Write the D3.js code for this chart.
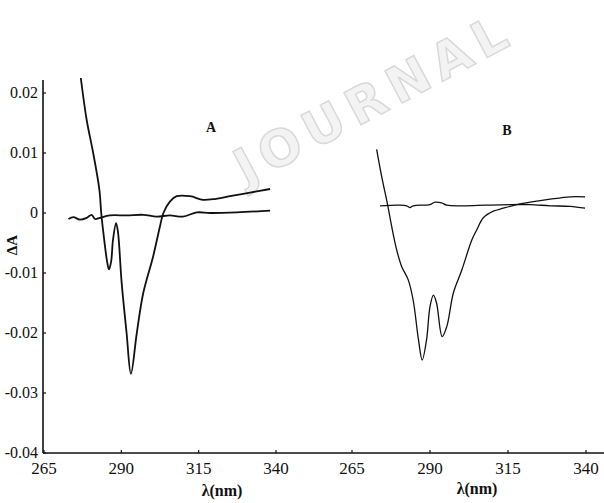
<!DOCTYPE html>
<html>
<head>
<meta charset="utf-8">
<script src="https://cdn.jsdelivr.net/npm/d3@7"></script>
<style>
  body { margin: 0; background: #fff; }
  svg { display: block; }
  text { font-family: "Liberation Serif", "DejaVu Serif", serif; fill: #111; }
</style>
</head>
<body>
<div id="chart"></div>
<script>
const W = 604, H = 503;
const axis_left = 43;
const axis_bottom = 453;

// tick labels
const x_ticks = [265, 290, 315, 340];
const y_ticks = [0.02, 0.01, 0, -0.01, -0.02, -0.03, -0.04];
const y_tick_labels = ["0.02", "0.01", "0", "-0.01", "-0.02", "-0.03", "-0.04"];

// panel A: wavelength (nm) and delta A
const a_main_nm = [276.9, 278.8, 280.9, 282.9, 283.5, 284.2, 285.4, 286.0, 286.7, 287.3, 288.3, 288.9, 290.1, 291.7, 293.1, 295.0, 297.1, 300.3, 302.5, 303.6, 305.7, 307.9, 312.2, 316.4, 319.6, 325.1, 331.6, 338.1];
const a_main_val = [0.0225, 0.0155, 0.0100, 0.0039, 0.0, -0.0033, -0.0081, -0.0094, -0.0081, -0.0045, -0.0017, -0.0031, -0.0116, -0.0200, -0.0268, -0.0200, -0.0133, -0.0072, -0.0022, 0.0, 0.0019, 0.0028, 0.0028, 0.0022, 0.0023, 0.0028, 0.0034, 0.0040];
const a_base_nm = [272.9, 274.5, 276.6, 278.8, 280.4, 281.5, 283.1, 286.3, 291.7, 297.1, 301.4, 305.7, 309.9, 314.4, 318.7, 327.3, 338.1];
const a_base_val = [-0.0010, -0.0007, -0.0011, -0.0008, -0.0003, -0.0010, -0.0008, -0.0004, -0.0004, -0.0003, -0.0006, -0.0004, -0.0006, 0.0001, 0.0, 0.0001, 0.0004];

// panel B
const b_main_nm = [272.9, 274.5, 276.4, 277.7, 279.3, 280.9, 283.0, 284.6, 286.3, 287.5, 288.9, 290.0, 291.1, 292.1, 293.9, 295.4, 297.5, 300.2, 303.4, 305.0, 307.1, 310.3, 313.5, 317.8, 322.1, 328.5, 334.9, 339.7];
const b_main_val = [0.0106, 0.0061, 0.0014, -0.0022, -0.0061, -0.0089, -0.0111, -0.0145, -0.0211, -0.0245, -0.0211, -0.0156, -0.0137, -0.0150, -0.0206, -0.0189, -0.0133, -0.0095, -0.0045, -0.0028, -0.0008, 0.0003, 0.0008, 0.0014, 0.0018, 0.0023, 0.0027, 0.0027];
const b_base_nm = [274.0, 279.8, 282.5, 283.6, 284.6, 290.0, 291.6, 293.7, 295.4, 301.2, 307.6, 315.6, 322.1, 328.5, 334.9, 339.7];
const b_base_val = [0.0012, 0.0013, 0.0012, 0.0009, 0.0012, 0.0014, 0.0018, 0.0017, 0.0013, 0.0012, 0.0013, 0.0014, 0.0014, 0.0012, 0.0011, 0.0008];

function zip(xs, ys) {
    return xs.map((x, i) => [x, ys[i]]);
}

var svg = d3.select("#chart").append("svg")
    .attr("width", W)
    .attr("height", H);

// faint watermark across the top
svg.append("text")
    .attr("transform", "translate(246,186) rotate(-28)")
    .style("font-family", "DejaVu Sans, sans-serif")
    .style("font-size", "50px")
    .style("font-weight", "bold")
    .style("letter-spacing", "8px")
    .style("fill", "#f3f3f3")
    .style("stroke", "#d9d9d9")
    .style("stroke-width", 1.5)
    .text("JOURNAL");

var y = d3.scaleLinear().domain([-0.04, 0.02]).range([axis_bottom, 93]);
var xA = d3.scaleLinear().domain([265, 340]).range([44, 276]);
var xB = d3.scaleLinear().domain([265, 340]).range([352, 586]);

// axes lines
svg.append("line")
    .attr("x1", axis_left).attr("x2", axis_left)
    .attr("y1", 80).attr("y2", axis_bottom)
    .attr("stroke", "#111").attr("stroke-width", 1.6);
svg.append("line")
    .attr("x1", axis_left).attr("x2", W)
    .attr("y1", axis_bottom).attr("y2", axis_bottom)
    .attr("stroke", "#111").attr("stroke-width", 1.6);

// y ticks + labels
y_ticks.forEach((v, i) => {
    svg.append("line")
        .attr("x1", axis_left).attr("x2", axis_left + 3)
        .attr("y1", y(v)).attr("y2", y(v))
        .attr("stroke", "#111").attr("stroke-width", 1.2);
    svg.append("text")
        .attr("x", 38)
        .attr("y", y(v) + 5)
        .attr("text-anchor", "end")
        .style("font-size", "16px")
        .text(y_tick_labels[i]);
});

// x ticks for both panels
[xA, xB].forEach((x) => {
    x_ticks.forEach((t) => {
        svg.append("line")
            .attr("x1", x(t)).attr("x2", x(t))
            .attr("y1", axis_bottom).attr("y2", axis_bottom - 3)
            .attr("stroke", "#111").attr("stroke-width", 1.2);
        svg.append("text")
            .attr("x", x(t))
            .attr("y", 474)
            .attr("text-anchor", "middle")
            .style("font-size", "17px")
            .text(t);
    });
});

// axis titles
svg.append("text")
    .attr("x", 222).attr("y", 496)
    .attr("text-anchor", "middle")
    .style("font-size", "16px")
    .style("font-weight", "bold")
    .text("λ(nm)");
svg.append("text")
    .attr("x", 477).attr("y", 494)
    .attr("text-anchor", "middle")
    .style("font-size", "16px")
    .style("font-weight", "bold")
    .text("λ(nm)");
svg.append("text")
    .attr("transform", "translate(17,245) rotate(-90)")
    .attr("text-anchor", "middle")
    .style("font-size", "15px")
    .style("font-weight", "bold")
    .text("ΔA");

// panel letters
svg.append("text")
    .attr("x", 211).attr("y", 132)
    .attr("text-anchor", "middle")
    .style("font-size", "14px")
    .style("font-weight", "bold")
    .text("A");
svg.append("text")
    .attr("x", 507).attr("y", 135)
    .attr("text-anchor", "middle")
    .style("font-size", "14px")
    .style("font-weight", "bold")
    .text("B");

// curves
function drawCurve(x, pts, width) {
    var line = d3.line()
        .x((d) => x(d[0]))
        .y((d) => y(d[1]))
        .curve(d3.curveCatmullRom.alpha(0.5));
    svg.append("path")
        .datum(pts)
        .attr("d", line)
        .attr("fill", "none")
        .attr("stroke", "#111")
        .attr("stroke-width", width)
        .attr("stroke-linejoin", "round");
}

drawCurve(xA, zip(a_base_nm, a_base_val), 1.8);
drawCurve(xA, zip(a_main_nm, a_main_val), 1.8);
drawCurve(xB, zip(b_base_nm, b_base_val), 1.3);
drawCurve(xB, zip(b_main_nm, b_main_val), 1.3);
</script>
</body>
</html>
